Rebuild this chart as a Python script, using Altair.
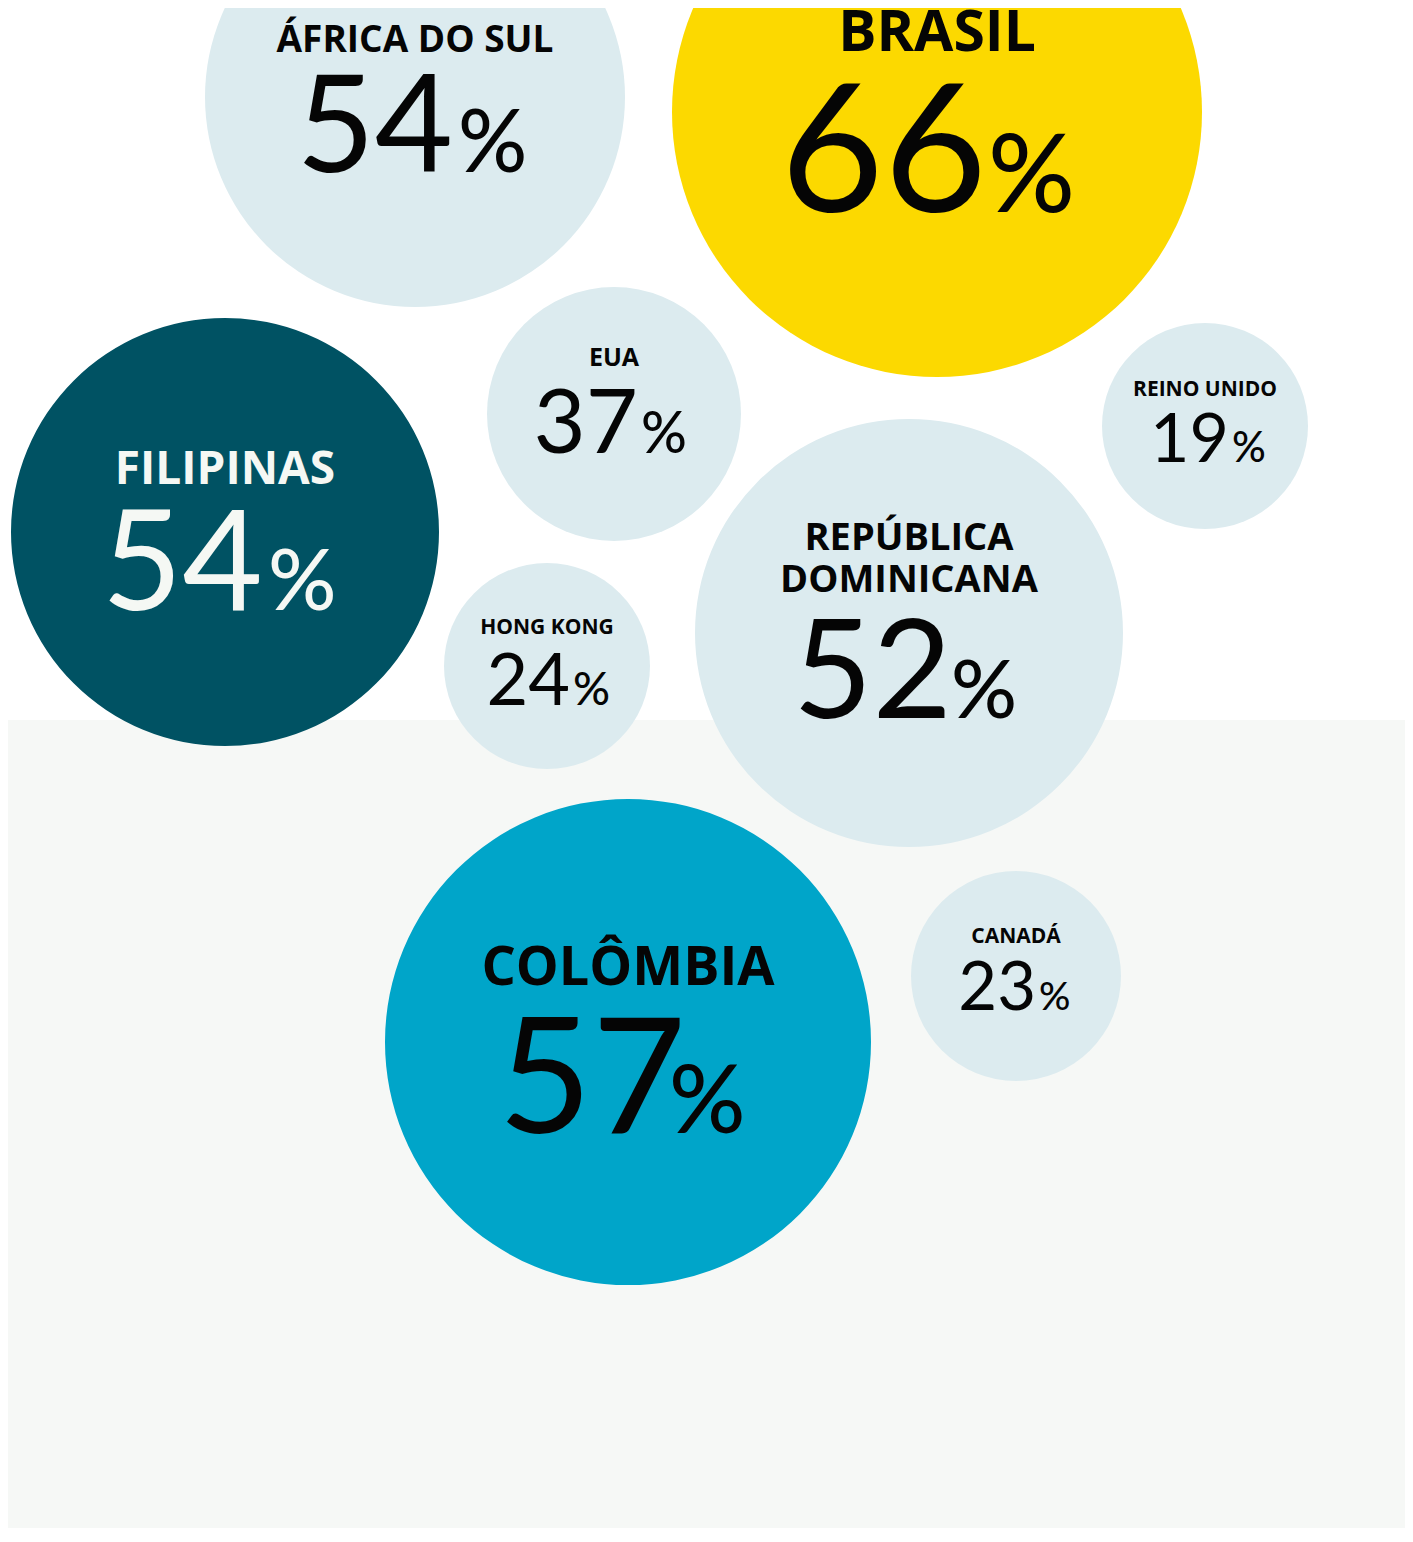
import altair as alt
import pandas as pd

# ---- data ----
countries = ["África do Sul", "Brasil", "EUA", "Reino Unido", "Filipinas",
             "Hong Kong", "República Dominicana", "Colômbia", "Canadá"]
label_lines = [["ÁFRICA DO SUL"], ["BRASIL"], ["EUA"], ["REINO UNIDO"], ["FILIPINAS"],
               ["HONG KONG"], ["REPÚBLICA", "DOMINICANA"], ["COLÔMBIA"], ["CANADÁ"]]
values = [54, 66, 37, 19, 54, 24, 52, 57, 23]

# ---- layout (bubble placement, reference pixel frame) ----
center_x = [415, 937, 614, 1205, 225, 547, 909, 628, 1016]
center_y = [97, 112, 414, 426, 532, 666, 633, 1042, 976]
radius = [210, 265, 127, 103, 214, 103, 214, 243, 105]
fill = ["#dcebef", "#fcd900", "#dcebef", "#dcebef", "#005263",
        "#dcebef", "#dcebef", "#00a5c9", "#dcebef"]
ink = ["#050505", "#050505", "#050505", "#050505", "#f5f8f4",
       "#050505", "#050505", "#050505", "#050505"]
label_size = [37, 57, 25, 21, 46, 21, 38, 54, 21]
label_base = [52, 51, 366, 396, 484, 634, 550, 985, 943]
line_gap = 42
num_size = [135, 178, 90, 68, 139, 72, 137, 162, 67]
pct_size = [86, 108, 57, 42, 85, 46, 82, 95, 39]
num_base = [172, 212, 453, 462, 610, 705, 718, 1133, 1010]
num_off = [38, 50, 24, 24, 38, 23, 43, 58, 20]
pct_off = [43, 51, 27, 27, 43, 26, 42, 41, 23]

band_x = [0, 1413]
band_y = [720, 1542]
band_color = "#f6f8f6"

# ---- tables ----
bubbles = pd.DataFrame({
    "country": countries,
    "value": values,
    "cx": center_x,
    "cy": center_y,
    "area": [(2 * r) ** 2 for r in radius],
    "fill": fill,
    "ink": ink,
    "num": [str(v) for v in values],
    "num_x": [cx + s for cx, s in zip(center_x, num_off)],
    "pct_x": [cx + s for cx, s in zip(center_x, pct_off)],
    "num_y": num_base,
    "num_size": num_size,
    "pct_size": pct_size,
    "pct": ["%"] * len(values),
})

rows = []
for i, lines in enumerate(label_lines):
    for j, line in enumerate(lines):
        rows.append({"country": countries[i], "text": line, "x": center_x[i],
                     "y": label_base[i] + j * line_gap, "fs": label_size[i], "ink": ink[i]})
labels = pd.DataFrame(rows)

band = pd.DataFrame({"x": [band_x[0]], "x2": [band_x[1]], "y": [band_y[0]], "y2": [band_y[1]],
                     "c": [band_color]})

W, H = 1397, 1520
xs = alt.Scale(domain=[8, 8 + W], nice=False, zero=False)
ys = alt.Scale(domain=[8, 8 + H], reverse=True, nice=False, zero=False)

bg = alt.Chart(band).mark_rect().encode(
    x=alt.X("x:Q", scale=xs, axis=None),
    x2="x2:Q",
    y=alt.Y("y:Q", scale=ys, axis=None),
    y2="y2:Q",
    color=alt.Color("c:N", scale=None),
)

circles = alt.Chart(bubbles).mark_circle(opacity=1, strokeWidth=0).encode(
    x=alt.X("cx:Q", scale=xs, axis=None),
    y=alt.Y("cy:Q", scale=ys, axis=None),
    size=alt.Size("area:Q", scale=None),
    color=alt.Color("fill:N", scale=None),
    tooltip=["country:N", "value:Q"],
)

label_text = alt.Chart(labels).mark_text(
    font="Open Sans", fontWeight="bold", align="center", baseline="alphabetic"
).encode(
    x=alt.X("x:Q", scale=xs, axis=None),
    y=alt.Y("y:Q", scale=ys, axis=None),
    text="text:N",
    size=alt.Size("fs:Q", scale=None),
    color=alt.Color("ink:N", scale=None),
)

num_text = alt.Chart(bubbles).mark_text(
    font="Lato", fontWeight="normal", align="right", baseline="alphabetic"
).encode(
    x=alt.X("num_x:Q", scale=xs, axis=None),
    y=alt.Y("num_y:Q", scale=ys, axis=None),
    text="num:N",
    size=alt.Size("num_size:Q", scale=None),
    color=alt.Color("ink:N", scale=None),
)

pct_text = alt.Chart(bubbles).mark_text(
    font="Lato", fontWeight=500, align="left", baseline="alphabetic"
).encode(
    x=alt.X("pct_x:Q", scale=xs, axis=None),
    y=alt.Y("num_y:Q", scale=ys, axis=None),
    text="pct:N",
    size=alt.Size("pct_size:Q", scale=None),
    color=alt.Color("ink:N", scale=None),
)

chart = alt.layer(bg, circles, label_text, num_text, pct_text).resolve_scale(
    size="independent", color="independent"
).properties(
    width=W, height=H, padding=0, autosize=alt.AutoSizeParams(type="none"),
    background="#ffffff",
).configure_view(stroke=None)

chart.save("out.html", embed_options={"renderer": "svg", "actions": False})
